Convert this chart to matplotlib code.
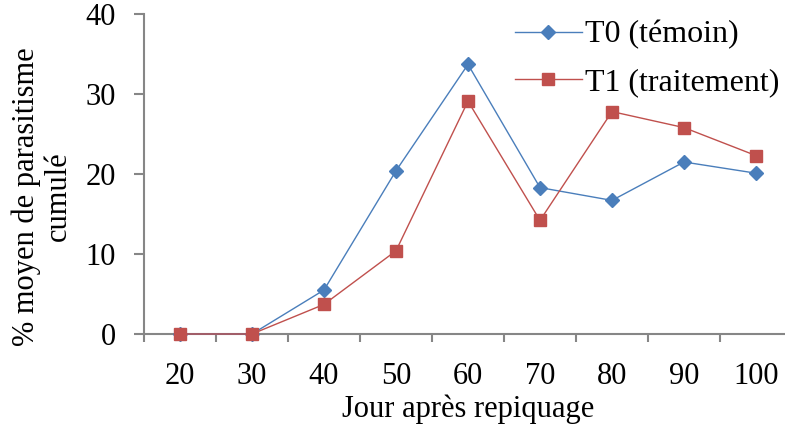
import numpy as np
import matplotlib.pyplot as plt
from matplotlib import ticker

# données
jours = ['20', '30', '40', '50', '60', '70', '80', '90', '100']
t0_temoin = [0, 0, 5.5, 20.4, 33.7, 18.3, 16.7, 21.5, 20.1]
t1_traitement = [0, 0, 3.7, 10.4, 29.1, 14.2, 27.8, 25.8, 22.3]

plt.rcParams['font.family'] = ['Liberation Serif', 'DejaVu Serif']

fig = plt.figure(figsize=(7.85, 4.41), dpi=100)
ax = fig.add_axes([144 / 785, 1 - 334 / 441, 648 / 785, 320 / 441])

x = np.arange(len(jours))
ax.plot(x, t0_temoin, color='#4A7EBB', marker='D', markersize=7, linewidth=1,
        label='T0 (témoin)', clip_on=False, zorder=3)
ax.plot(x, t1_traitement, color='#C0504D', marker='s', markersize=8.5, linewidth=1,
        label='T1 (traitement)', clip_on=False, zorder=3)

ax.set_xlim(-0.5, len(jours) - 0.5)
ax.set_ylim(0, 40)
ax.yaxis.set_major_locator(ticker.MultipleLocator(10))

# ticks de catégories entre les points, étiquettes au centre
ax.set_xticks(x)
ax.set_xticklabels(jours)
ax.set_xticks(np.arange(-0.5, len(jours)), minor=True)
ax.tick_params(axis='x', which='major', length=0, pad=20, labelsize=22)
ax.tick_params(axis='x', which='minor', length=6, width=1.5, color='#868686', direction='out')
ax.tick_params(axis='y', length=7, width=1.5, color='#868686', direction='out', pad=13, labelsize=22)

for s in ['top', 'right']:
    ax.spines[s].set_visible(False)
for s in ['left', 'bottom']:
    ax.spines[s].set_color('#868686')
    ax.spines[s].set_linewidth(1.5)

ax.set_xlabel('Jour après repiquage', fontsize=22, labelpad=3)
ax.set_ylabel('% moyen de parasitisme\ncumulé', fontsize=22, linespacing=1.1)
ax.yaxis.set_label_coords(-0.157, 0.43)
ax.yaxis.label.set_va('center')

ax.legend(loc='upper right', bbox_to_anchor=(1.025, 1.07), frameon=False, fontsize=23,
          handlelength=2.1, handletextpad=0.1, labelspacing=0.58)

fig.savefig('out.png', dpi=100)
